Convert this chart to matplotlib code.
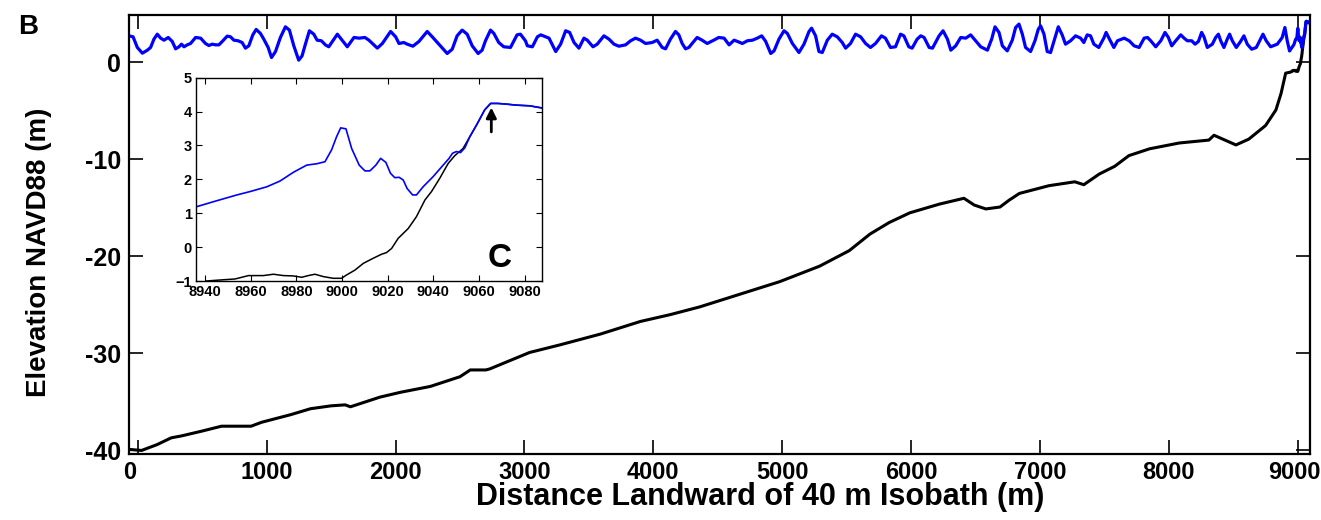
import matplotlib
matplotlib.use("Agg")
import matplotlib.pyplot as plt
from matplotlib.transforms import ScaledTranslation

plt.rcParams['font.family'] = ['Liberation Sans', 'DejaVu Sans']
plt.rcParams['font.weight'] = 'bold'

# ---- Seabed profile (distance landward of 40 m isobath, elevation NAVD88) ----
bed_x = [-60, 30, 150, 260, 340, 500, 650, 880, 960, 1190, 1340, 1500, 1610, 1650,
         1880, 2040, 2270, 2500, 2580, 2700, 2730, 3040, 3280, 3590, 3900, 4130, 4360,
         4670, 4980, 5290, 5520, 5680, 5830, 5990, 6220, 6410, 6490, 6580, 6690, 6760,
         6840, 7070, 7270, 7340, 7460, 7580, 7690, 7850, 8080, 8310, 8350, 8520, 8620,
         8750, 8830, 8870, 8906]
bed_z = [-39.9, -40.0, -39.4, -38.7, -38.5, -38.0, -37.5, -37.5, -37.1, -36.3, -35.7,
         -35.4, -35.3, -35.5, -34.5, -34.0, -33.4, -32.4, -31.7, -31.7, -31.6, -29.9,
         -29.1, -28.0, -26.7, -26.0, -25.2, -23.9, -22.6, -21.0, -19.4, -17.7, -16.5,
         -15.5, -14.6, -14.0, -14.7, -15.1, -14.9, -14.2, -13.5, -12.7, -12.3, -12.6,
         -11.5, -10.7, -9.6, -8.9, -8.3, -8.0, -7.5, -8.5, -7.9, -6.5, -4.9, -3.2, -1.1]

# ---- Water surface along the profile ----
wave_x = [-67, -36, -3, 36, 75, 100, 126, 152, 178, 204, 237, 268, 294, 320, 340, 359,
          384, 410, 449, 488, 526, 552, 578, 604, 630, 661, 694, 720, 746, 779, 810,
          836, 862, 893, 919, 952, 978, 1012, 1038, 1069, 1107, 1146, 1177, 1211, 1249,
          1275, 1301, 1332, 1366, 1392, 1425, 1456, 1482, 1549, 1626, 1678, 1717, 1763,
          1794, 1859, 1898, 1962, 2001, 2027, 2065, 2091, 2135, 2182, 2246, 2285, 2336,
          2401, 2440, 2478, 2517, 2556, 2595, 2641, 2672, 2698, 2737, 2763, 2801, 2840,
          2892, 2943, 2969, 3008, 3023, 3062, 3101, 3127, 3165, 3191, 3243, 3281, 3320,
          3351, 3385, 3423, 3462, 3488, 3532, 3565, 3617, 3656, 3695, 3733, 3785, 3824,
          3862, 3901, 3940, 3991, 4030, 4069, 4095, 4133, 4172, 4198, 4224, 4250, 4276,
          4301, 4340, 4379, 4418, 4469, 4508, 4549, 4588, 4627, 4653, 4691, 4730, 4769,
          4807, 4841, 4872, 4911, 4937, 4975, 5014, 5040, 5079, 5130, 5169, 5208, 5228,
          5259, 5285, 5311, 5350, 5388, 5427, 5466, 5492, 5530, 5569, 5608, 5647, 5685,
          5724, 5770, 5801, 5840, 5879, 5918, 5944, 5982, 6008, 6047, 6075, 6101, 6140,
          6166, 6217, 6248, 6282, 6308, 6346, 6385, 6424, 6462, 6501, 6540, 6592, 6625,
          6651, 6682, 6708, 6746, 6785, 6811, 6837, 6863, 6888, 6927, 6961, 6987, 7005,
          7031, 7056, 7082, 7116, 7142, 7172, 7198, 7237, 7276, 7315, 7340, 7366, 7392,
          7418, 7456, 7495, 7513, 7539, 7573, 7601, 7653, 7692, 7730, 7769, 7808, 7834,
          7859, 7898, 7937, 7970, 7996, 8022, 8053, 8092, 8118, 8143, 8177, 8203, 8229,
          8254, 8272, 8298, 8337, 8363, 8384, 8402, 8427, 8453, 8471, 8492, 8523, 8556,
          8582, 8608, 8642, 8678, 8711, 8730, 8755, 8789, 8841, 8879, 8900, 8918]
wave_z = [2.75, 2.65, 1.55, 0.96, 1.27, 1.55, 2.41, 2.92, 2.51, 2.30, 2.58, 2.17, 1.41,
          1.62, 1.89, 1.62, 1.82, 1.96, 2.58, 2.51, 1.96, 1.75, 1.89, 1.82, 1.82, 2.24,
          2.72, 2.65, 2.30, 2.24, 2.06, 1.48, 1.72, 2.85, 3.41, 3.00, 2.41, 1.55, 0.51,
          1.13, 2.58, 3.68, 3.34, 1.72, 0.24, 0.68, 1.89, 3.27, 2.92, 2.30, 2.24, 1.82,
          1.62, 2.92, 1.62, 2.58, 2.51, 2.58, 2.30, 1.48, 1.96, 3.20, 2.65, 1.96, 2.06,
          1.89, 1.68, 2.17, 3.20, 2.65, 1.89, 0.93, 1.37, 2.75, 3.34, 2.92, 1.72, 0.93,
          1.27, 2.24, 3.34, 3.00, 2.06, 1.62, 1.55, 2.85, 2.92, 2.24, 1.72, 1.62, 2.65,
          2.85, 2.65, 2.51, 1.13, 1.89, 3.27, 3.10, 2.06, 1.48, 2.51, 2.30, 1.62, 1.89,
          2.75, 2.41, 1.89, 1.68, 1.82, 2.24, 2.51, 2.30, 1.96, 2.06, 2.30, 1.55, 1.41,
          2.41, 3.20, 2.85, 1.96, 1.41, 1.55, 1.96, 2.58, 2.30, 1.96, 2.30, 2.58, 2.51,
          1.82, 2.30, 2.17, 1.96, 2.24, 2.30, 2.51, 2.75, 2.17, 0.93, 1.20, 2.41, 3.27,
          3.00, 1.96, 1.03, 1.89, 3.20, 3.54, 2.75, 1.13, 1.03, 2.30, 2.92, 2.65, 2.06,
          1.48, 1.96, 2.92, 2.65, 1.96, 1.55, 1.96, 2.75, 2.51, 1.55, 1.62, 2.92, 2.75,
          1.62, 1.48, 2.41, 2.75, 2.58, 1.55, 1.48, 2.75, 3.27, 2.41, 1.27, 1.72, 2.58,
          2.51, 2.85, 2.24, 1.62, 1.27, 2.41, 3.68, 3.10, 1.72, 1.20, 2.30, 3.61, 3.96,
          2.92, 1.55, 1.13, 2.24, 3.44, 3.78, 2.92, 1.13, 1.03, 2.51, 3.68, 2.85, 1.89,
          2.24, 2.75, 2.51, 2.06, 2.85, 2.75, 1.89, 1.55, 2.51, 3.10, 2.41, 1.55, 2.24,
          2.51, 2.24, 1.72, 1.55, 2.51, 2.58, 2.24, 1.62, 2.24, 3.10, 2.58, 1.72, 2.24,
          2.85, 2.51, 2.24, 2.24, 1.89, 2.17, 3.10, 2.65, 1.55, 1.89, 2.58, 2.92, 2.24,
          1.55, 2.41, 2.92, 2.24, 1.55, 2.17, 2.75, 1.89, 1.37, 1.55, 2.41, 2.92, 2.24,
          1.62, 1.89, 2.58, 3.61, 2.24]

# ---- Detailed shoreline segment (panel C) ----
shore_wave_x = [8936.1, 8943.6, 8953.9, 8959.7, 8967.0, 8972.8, 8978.7, 8984.5, 8988.9,
                8992.5, 8995.4, 8997.6, 8999.4, 9001.7, 9004.2, 9007.5, 9010.0, 9012.2,
                9014.8, 9016.9, 9019.2, 9021.2, 9023.1, 9025.0, 9026.8, 9028.5, 9030.9,
                9032.6, 9035.5, 9039.9, 9044.3, 9046.9, 9048.4, 9050.1, 9051.9, 9053.8,
                9056.0, 9058.9, 9062.5, 9065.1, 9068.3, 9072.0, 9076.4, 9082.2, 9087.3]
shore_wave_z = [1.19, 1.34, 1.54, 1.64, 1.78, 1.95, 2.21, 2.42, 2.46, 2.52, 2.87, 3.26,
                3.52, 3.49, 2.91, 2.42, 2.25, 2.25, 2.42, 2.62, 2.50, 2.18, 2.05, 2.06,
                1.98, 1.73, 1.54, 1.54, 1.78, 2.08, 2.42, 2.62, 2.77, 2.82, 2.79, 2.93,
                3.26, 3.60, 4.05, 4.24, 4.24, 4.22, 4.19, 4.17, 4.11]
shore_bed_x = [8940.4, 8946.6, 8953.1, 8959.0, 8965.5, 8969.9, 8974.3, 8978.6, 8982.3,
               8985.2, 8988.1, 8991.8, 8996.1, 8999.8, 9002.0, 9005.6, 9009.3, 9013.6,
               9017.3, 9019.5, 9021.7, 9024.6, 9029.0, 9032.6, 9036.3, 9039.2, 9042.8,
               9046.5, 9049.4, 9053.0, 9056.0, 9058.9, 9062.5, 9065.1, 9068.3, 9072.0,
               9076.4, 9082.2, 9087.3]
shore_bed_z = [-1.00, -0.97, -0.94, -0.84, -0.84, -0.80, -0.84, -0.85, -0.89, -0.84,
               -0.80, -0.87, -0.92, -0.92, -0.82, -0.68, -0.48, -0.33, -0.21, -0.16,
               -0.04, 0.26, 0.55, 0.90, 1.39, 1.64, 2.03, 2.47, 2.70, 2.91, 3.26, 3.60,
               4.05, 4.24, 4.24, 4.22, 4.19, 4.17, 4.11]

# ---- Ticks ----
x_ticks = [0, 1000, 2000, 3000, 4000, 5000, 6000, 7000, 8000, 9000]
x_ticklabels = ['0', '1000', '2000', '3000', '4000', '5000', '6000', '7000', '8000', '9000']
y_ticks = [0, -10, -20, -30, -40]
y_ticklabels = ['0', '-10', '-20', '-30', '-40']
inset_x_ticks = [8940, 8960, 8980, 9000, 9020, 9040, 9060, 9080]
inset_x_ticklabels = ['8940', '8960', '8980', '9000', '9020', '9040', '9060', '9080']
inset_y_ticks = [-1, 0, 1, 2, 3, 4, 5]
inset_y_ticklabels = ['\u22121', '0', '1', '2', '3', '4', '5']

BLUE = (0.0, 0.0, 1.0)

fig = plt.figure(figsize=(13.21, 5.20), dpi=100)

# Full cross-shore profile
ax = fig.add_axes([0.0979, 0.1263, 0.8938, 0.8449])
ax.plot(bed_x + shore_bed_x, bed_z + shore_bed_z, color='black', lw=2.2,
        solid_joinstyle='round')
ax.plot(wave_x + shore_wave_x, wave_z + shore_wave_z, color=BLUE, lw=2.3,
        solid_joinstyle='round')
ax.set_xlim(-65, 9095)
ax.set_ylim(-40.4, 4.9)
ax.set_xticks(x_ticks)
ax.set_xticklabels(x_ticklabels)
ax.set_yticks(y_ticks)
ax.set_yticklabels(y_ticklabels)
ax.tick_params(direction='in', length=10, width=1.2, top=True, right=True)
ax.tick_params(axis='x', pad=5, labelsize=17)
ax.tick_params(axis='y', pad=6, labelsize=18)
for s in ax.spines.values():
    s.set_linewidth(1.6)

# nudge the end labels so they sit flush with the frame
xt = ax.xaxis.get_major_ticks()
xt[0].label1.set_transform(xt[0].label1.get_transform()
                           + ScaledTranslation(-8 / 100, 0, fig.dpi_scale_trans))
xt[-1].label1.set_transform(xt[-1].label1.get_transform()
                            + ScaledTranslation(-3 / 100, 0, fig.dpi_scale_trans))

fig.text(760 / 1321, 1 - 497 / 520, 'Distance Landward of 40 m Isobath (m)',
         fontsize=22, fontweight='bold', ha='center', va='center')
fig.text(39 / 1321, 1 - 252 / 520, 'Elevation NAVD88 (m)', rotation=90,
         fontsize=20, fontweight='bold', ha='center', va='center')
fig.text(28 / 1321, 1 - 27 / 520, 'B', fontsize=20, fontweight='bold',
         ha='center', va='center')

# Zoom on the shoreline
axi = fig.add_axes([0.1484, 0.4596, 0.2617, 0.391])
axi.plot(shore_bed_x, shore_bed_z, color='black', lw=1.1)
axi.plot(shore_wave_x, shore_wave_z, color=BLUE, lw=1.2)
axi.set_xlim(8936, 9087.5)
axi.set_ylim(-1, 5)
axi.set_xticks(inset_x_ticks)
axi.set_xticklabels(inset_x_ticklabels)
axi.set_yticks(inset_y_ticks)
axi.set_yticklabels(inset_y_ticklabels)
axi.tick_params(direction='in', length=4, width=0.8, top=True, right=True,
                labelsize=10.5, pad=3)
for s in axi.spines.values():
    s.set_linewidth(1.0)
axi.annotate('', xy=(9065.4, 4.12), xytext=(9065.4, 3.40),
             arrowprops=dict(arrowstyle='-|>', color='black', lw=2.0,
                             mutation_scale=15, shrinkA=0, shrinkB=0))
axi.text(9069, -0.33, 'C', fontsize=24, fontweight='bold', ha='center', va='center')

fig.savefig('out.png', dpi=100)
